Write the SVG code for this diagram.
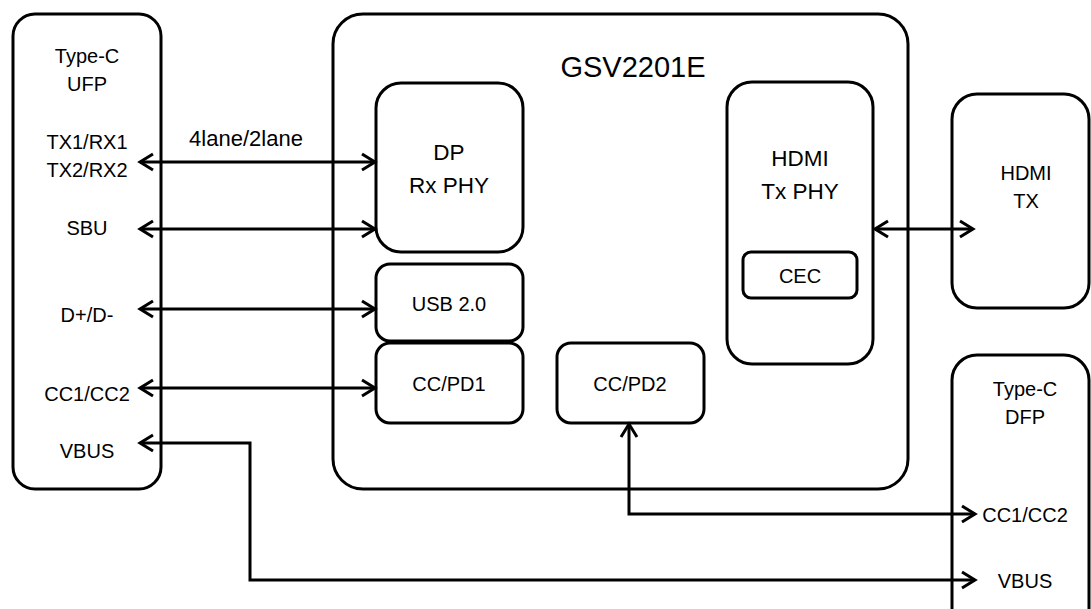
<svg xmlns="http://www.w3.org/2000/svg" width="1091" height="609" viewBox="0 0 1091 609">
<defs>
<style>
.box{fill:#fff;stroke:#000;stroke-width:3}
.t{font-family:"Liberation Sans",Arial,sans-serif;font-size:20px;fill:#000;text-anchor:middle}
.tb{font-family:"Liberation Sans",Arial,sans-serif;font-size:22.5px;fill:#000;text-anchor:middle}
.lbl{font-family:"Liberation Sans",Arial,sans-serif;font-size:22px;fill:#000;text-anchor:middle}
.title{font-family:"Liberation Sans",Arial,sans-serif;font-size:29px;fill:#000;text-anchor:middle}
.c{fill:none;stroke:#000;stroke-width:3}
</style>
<marker id="ah" markerUnits="userSpaceOnUse" markerWidth="20" markerHeight="20" viewBox="-16 -10 18 20" refX="0" refY="0" orient="auto-start-reverse">
<path d="M-13,-8 L0,0 L-13,8" fill="none" stroke="#000" stroke-width="3"/>
</marker>
</defs>
<rect width="1091" height="609" fill="#fff"/>
<g id="ufp">
<rect class="box" x="13" y="14" width="148" height="475" rx="22"/>
<text class="t" x="87" y="63">Type-C</text>
<text class="t" x="87" y="91">UFP</text>
<text class="t" x="87" y="149">TX1/RX1</text>
<text class="t" x="87" y="177">TX2/RX2</text>
<text class="t" x="87" y="235">SBU</text>
<text class="t" x="87" y="322">D+/D-</text>
<text class="t" x="87" y="401">CC1/CC2</text>
<text class="t" x="87" y="458">VBUS</text>
</g>
<g id="gsv">
<rect class="box" x="333" y="14" width="575" height="475" rx="30"/>
<text class="title" x="633" y="77">GSV2201E</text>
</g>
<g id="dp">
<rect class="box" x="376" y="83" width="147" height="169" rx="25"/>
<text class="tb" x="449" y="160">DP</text>
<text class="tb" x="449" y="193">Rx PHY</text>
</g>
<g id="usb">
<rect class="box" x="376" y="264" width="147" height="77" rx="14"/>
<text class="t" x="449" y="311">USB 2.0</text>
</g>
<g id="ccpd1">
<rect class="box" x="376" y="343" width="147" height="80" rx="14"/>
<text class="t" x="449" y="391">CC/PD1</text>
</g>
<g id="ccpd2">
<rect class="box" x="557" y="343" width="147" height="80" rx="14"/>
<text class="t" x="630" y="391">CC/PD2</text>
</g>
<g id="hdmiphy">
<rect class="box" x="727" y="82" width="146" height="282" rx="25"/>
<text class="tb" x="800" y="166">HDMI</text>
<text class="tb" x="800" y="199">Tx PHY</text>
</g>
<g id="cec">
<rect class="box" x="743" y="252" width="114" height="46" rx="8"/>
<text class="t" x="800" y="283">CEC</text>
</g>
<g id="hdmitx">
<rect class="box" x="952" y="94" width="137" height="214" rx="25"/>
<text class="t" x="1026" y="180">HDMI</text>
<text class="t" x="1026" y="208">TX</text>
</g>
<g id="dfp">
<rect class="box" x="952" y="355" width="137" height="280" rx="25"/>
<text class="t" x="1025" y="396">Type-C</text>
<text class="t" x="1025" y="424">DFP</text>
<text class="t" x="1025" y="522">CC1/CC2</text>
<text class="t" x="1025" y="588">VBUS</text>
</g>
<g id="connectors">
<text class="lbl" x="246" y="146">4lane/2lane</text>
<line class="c" x1="140" y1="162" x2="375" y2="162" marker-start="url(#ah)" marker-end="url(#ah)"/>
<line class="c" x1="140" y1="229" x2="375" y2="229" marker-start="url(#ah)" marker-end="url(#ah)"/>
<line class="c" x1="140" y1="309" x2="375" y2="309" marker-start="url(#ah)" marker-end="url(#ah)"/>
<line class="c" x1="140" y1="388" x2="375" y2="388" marker-start="url(#ah)" marker-end="url(#ah)"/>
<line class="c" x1="875" y1="229" x2="973" y2="229" marker-start="url(#ah)" marker-end="url(#ah)"/>
<polyline class="c" points="140,443 250,443 250,580 975,580" marker-start="url(#ah)" marker-end="url(#ah)"/>
<polyline class="c" points="629,424 629,514 975,514" marker-start="url(#ah)" marker-end="url(#ah)"/>
</g>
</svg>
